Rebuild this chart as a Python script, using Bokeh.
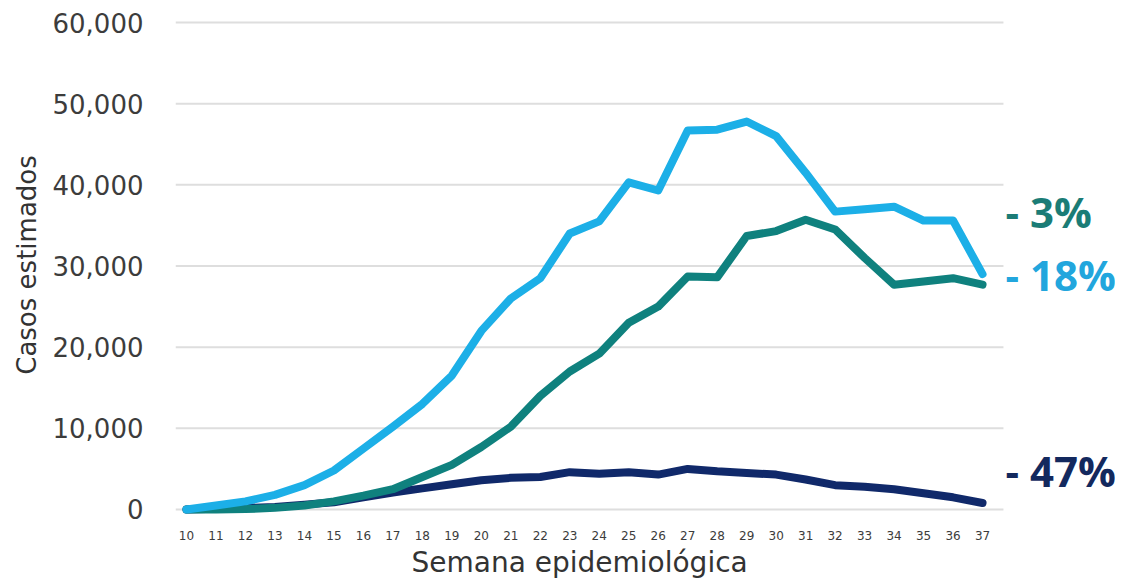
from bokeh.plotting import figure
from bokeh.models import FixedTicker, NumeralTickFormatter, Label, Range1d, Title
from bokeh.embed import file_html
from bokeh.resources import INLINE

# ---- data ----
semanas = list(range(10, 38))
casos_azul = [0, 500, 1000, 1800, 3000, 4800, 7500, 10200, 13000, 16500, 22000, 26000,
              28500, 34000, 35500, 40300, 39300, 46700, 46800, 47800, 46000, 41500,
              36700, 37000, 37300, 35600, 35600, 29000]
casos_verde = [0, 0, 50, 200, 500, 1000, 1700, 2500, 4000, 5500, 7700, 10200,
               14000, 17000, 19200, 23000, 25000, 28700, 28600, 33700, 34300, 35700,
               34500, 31000, 27700, 28100, 28500, 27700]
casos_marino = [0, 100, 200, 300, 600, 900, 1500, 2100, 2600, 3100, 3600, 3900,
                4000, 4600, 4400, 4600, 4300, 5000, 4700, 4500, 4300, 3700,
                3000, 2800, 2500, 2000, 1500, 800]
y_ticks = [0, 10000, 20000, 30000, 40000, 50000, 60000]
etiquetas = ["- 3%", "- 18%", "- 47%"]
etiqueta_y = [36700, 29000, 4800]

# ---- styles ----
c_azul = "#1CAFE7"
c_verde = "#0F817E"
c_marino = "#10296A"
c_etq = ["#1B7C76", "#22A6DD", "#13295E"]

x0, x_grid_end, x_end = 9.627, 37.71, 41.51
p = figure(frame_width=940, frame_height=501, output_backend="svg", toolbar_location=None,
           x_range=Range1d(x0, x_end), y_range=Range1d(-740, 60986),
           min_border_left=175, min_border_right=0, min_border_top=14,
           min_border_bottom=0)
p.outline_line_color = None
p.background_fill_color = "#FFFFFF"
p.border_fill_color = "#FFFFFF"
p.xgrid.grid_line_color = None
p.ygrid.grid_line_color = None

# gridlines
p.segment(x0=[x0] * len(y_ticks), y0=y_ticks, x1=[x_grid_end] * len(y_ticks), y1=y_ticks,
          line_color="#DEDEDE", line_width=2)

p.line(semanas, casos_marino, line_color=c_marino, line_width=8, line_join="round", line_cap="round")
p.line(semanas, casos_verde, line_color=c_verde, line_width=8, line_join="round", line_cap="round")
p.line(semanas, casos_azul, line_color=c_azul, line_width=8, line_join="round", line_cap="round")

# axes
p.yaxis.ticker = FixedTicker(ticks=y_ticks)
p.yaxis.formatter = NumeralTickFormatter(format="0,0")
p.xaxis.ticker = FixedTicker(ticks=semanas)
for ax in (p.xaxis, p.yaxis):
    ax.axis_line_color = None
    ax.major_tick_line_color = None
    ax.minor_tick_line_color = None
    ax.major_label_text_font = "DejaVu Sans"
    ax.axis_label_text_font = "DejaVu Sans"
    ax.axis_label_text_font_style = "normal"
    ax.axis_label_text_color = "#333333"
    ax.major_label_text_color = "#3C3C3C"

p.yaxis.major_label_text_font_size = "26px"
p.yaxis.major_label_standoff = 26
p.yaxis.axis_label = "Casos estimados"
p.yaxis.axis_label_text_font_size = "26px"
p.yaxis.axis_label_standoff = 8

p.xaxis.major_label_text_font_size = "12px"
p.xaxis.major_label_standoff = 9

p.add_layout(Title(text="Semana epidemiológica", align="left", offset=236,
                   text_font="DejaVu Sans", text_font_style="normal",
                   text_font_size="28px", text_color="#333333", standoff=2), "below")

for t, yv, c in zip(etiquetas, etiqueta_y, c_etq):
    p.add_layout(Label(x=37.78, y=yv, text=t, text_color=c, text_font="Open Sans",
                       text_font_style="bold", text_font_size="42px",
                       text_baseline="middle", text_align="left"))

open("out.html", "w").write(file_html(p, INLINE))
